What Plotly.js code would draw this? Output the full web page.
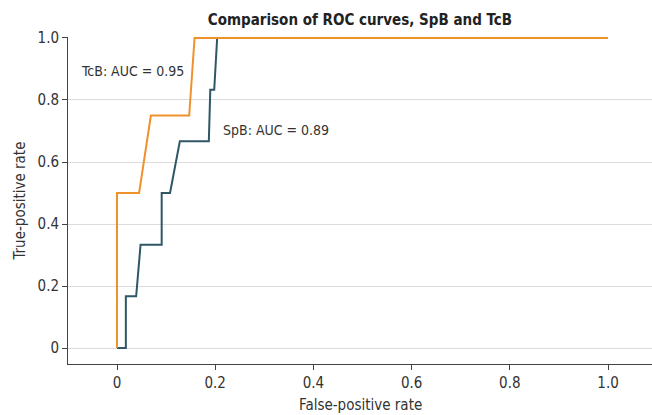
<!DOCTYPE html>
<html>
<head>
<meta charset="utf-8">
<script src="https://cdn.plot.ly/plotly-3.0.1.min.js"></script>
<style>html,body{margin:0;padding:0;background:#fff;}#chart{width:652px;height:415px;}</style>
</head>
<body>
<div id="chart"></div>
<script>
// ROC curve points (false-positive rate, true-positive rate)
const spbFPR = [0, 0.018, 0.018, 0.039, 0.048, 0.091, 0.091, 0.108, 0.128, 0.187, 0.19, 0.198, 0.204, 1.0];
const spbTPR = [0, 0, 0.167, 0.167, 0.333, 0.333, 0.5, 0.5, 0.667, 0.667, 0.833, 0.833, 1.0, 1.0];
const tcbFPR = [0, 0, 0.045, 0.069, 0.147, 0.158, 1.0];
const tcbTPR = [0, 0.5, 0.5, 0.75, 0.75, 1.0, 1.0];
const tickVals = [0, 0.2, 0.4, 0.6, 0.8, 1.0];
const tickText = ["0", "0.2", "0.4", "0.6", "0.8", "1.0"];
const labels = ["SpB: AUC = 0.89", "TcB: AUC = 0.95"];
const xTitle = "False-positive rate";
const yTitle = "True-positive rate";

const FONT = "'Liberation Sans Narrow', 'DejaVu Sans Condensed', 'Arial Narrow', sans-serif";

const traces = [
  {x: spbFPR, y: spbTPR, mode: 'lines', line: {color: '#2F5765', width: 2}, cliponaxis: false, hoverinfo: 'skip', name: 'SpB'},
  {x: tcbFPR, y: tcbTPR, mode: 'lines', line: {color: '#F0922B', width: 2}, cliponaxis: false, hoverinfo: 'skip', name: 'TcB'}
];

const layout = {
  width: 652, height: 415,
  margin: {l: 68, r: 0, t: 37, b: 51},
  paper_bgcolor: '#fff', plot_bgcolor: '#fff',
  showlegend: false,
  font: {family: FONT, size: 14, color: '#333'},
  title: {text: '<b>Comparison of ROC curves, SpB and TcB</b>', x: 0.552, xanchor: 'center', y: 0.952, yanchor: 'middle', font: {family: FONT, size: 15, color: '#222'}},
  xaxis: {
    range: [-0.0998, 1.0896], tickvals: tickVals, ticktext: tickText,
    showgrid: false, zeroline: false, showline: true, linecolor: '#444', linewidth: 1,
    ticks: 'outside', ticklen: 5, tickcolor: '#444', tickfont: {size: 15, color: '#333'}
  },
  yaxis: {
    range: [-0.0516, 1.0032], tickvals: tickVals, ticktext: tickText,
    showgrid: true, gridcolor: '#dcdcdc', gridwidth: 1, zeroline: false,
    showline: true, linecolor: '#444', linewidth: 1,
    ticks: 'outside', ticklen: 5, tickcolor: '#444', tickfont: {size: 15, color: '#333'}
  },
  annotations: [
    {x: 0.211, y: 0.703, text: labels[0], showarrow: false, xanchor: 'left', yanchor: 'middle', font: {size: 14, color: '#333'}},
    {x: -0.077, y: 0.894, text: labels[1], showarrow: false, xanchor: 'left', yanchor: 'middle', font: {size: 14, color: '#333'}},
    {xref: 'paper', yref: 'paper', x: 0.5, y: -0.1254, text: xTitle, showarrow: false, xanchor: 'center', yanchor: 'middle', font: {size: 15, color: '#333'}},
    {xref: 'paper', yref: 'paper', x: -0.0822, y: 0.5, text: yTitle, textangle: -90, showarrow: false, xanchor: 'center', yanchor: 'middle', font: {size: 15, color: '#333'}}
  ]
};

Plotly.newPlot('chart', traces, layout, {staticPlot: true, displayModeBar: false});
</script>
</body>
</html>
